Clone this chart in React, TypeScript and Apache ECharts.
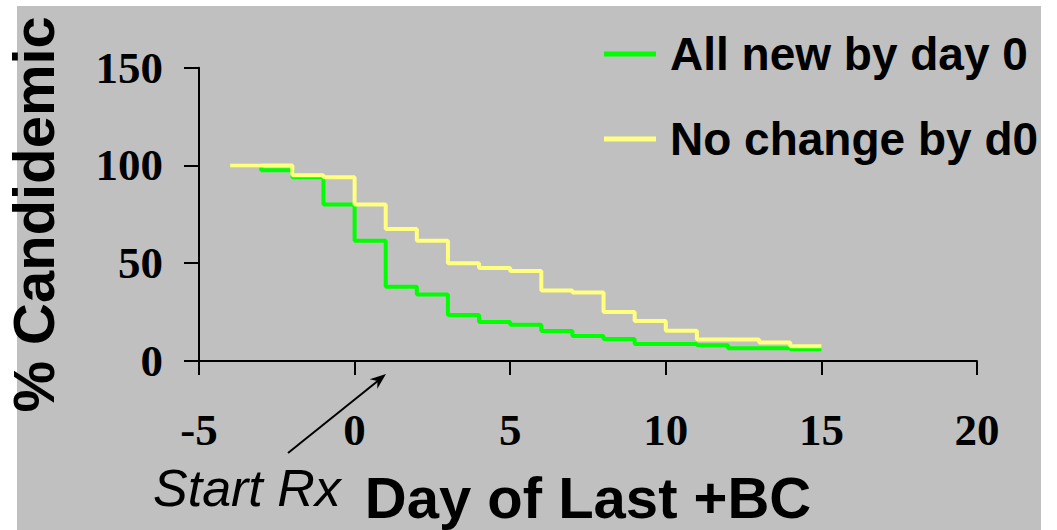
import React, { useEffect, useRef } from "react";
import * as echarts from "echarts";

const days = [-4, -3, -2, -1, 0, 1, 2, 3, 4, 5, 6, 7, 8, 9, 10, 11, 12, 13, 14, 15];
const allNew = [100, 97.5, 94, 80, 61.5, 38, 34, 23.5, 20, 18.5, 15.3, 12.8, 11.3, 8.7, 8.7, 8, 6.5, 6.5, 6, 6];
const noChange = [100, 100, 95, 94, 80, 67.5, 61.5, 50, 47.5, 46, 36, 35, 25, 20.5, 15.5, 11, 11, 9.5, 7.5, 7.5];
const seriesNames = ["All new by day 0", "No change by d0"];
const seriesColors = ["#00ff00", "#ffff80"];
const xTitle = "Day of Last +BC";
const yTitle = "% Candidemic";
const noteText = "Start Rx";

export default function App() {
  const ref = useRef<HTMLDivElement>(null);
  useEffect(() => {
    if (!ref.current) return;
    const chart = echarts.init(ref.current, undefined, { renderer: "svg" });
    const sans = '"Liberation Sans", Arial, sans-serif';
    const serif = '"Liberation Serif", "Times New Roman", serif';
    const mk = (vals: number[]) => days.map((d, i) => [d, vals[i]]);
    chart.setOption({
      animation: false,
      backgroundColor: "#ffffff",
      grid: {
        left: 199,
        right: 80,
        top: 67.7,
        bottom: 169,
        containLabel: false,
        outerBoundsMode: "none",
      },
      legend: {
        orient: "vertical",
        left: 599,
        top: 26,
        itemWidth: 52,
        itemHeight: 5,
        itemGap: 39,
        icon: "rect",
        data: seriesNames,
        textStyle: {
          fontFamily: sans,
          fontWeight: "bold",
          fontSize: 46,
          color: "#000",
          padding: [0, 0, 0, 9],
        },
      },
      xAxis: {
        type: "value",
        min: -5,
        max: 20,
        interval: 5,
        name: xTitle,
        nameLocation: "middle",
        nameGap: 107,
        nameTextStyle: { fontFamily: sans, fontWeight: "bold", fontSize: 58, color: "#000" },
        axisLine: { onZero: false, lineStyle: { color: "#000", width: 2 } },
        axisTick: { length: 14, lineStyle: { color: "#000", width: 2 } },
        axisLabel: { margin: 46, fontFamily: serif, fontWeight: "bold", fontSize: 45, color: "#000" },
        splitLine: { show: false },
      },
      yAxis: {
        type: "value",
        min: 0,
        max: 150,
        interval: 50,
        name: yTitle,
        nameLocation: "middle",
        nameGap: 137,
        nameTextStyle: { fontFamily: sans, fontWeight: "bold", fontSize: 58, color: "#000" },
        axisLine: { show: true, onZero: false, lineStyle: { color: "#000", width: 2 } },
        axisTick: { show: true, length: 15, lineStyle: { color: "#000", width: 2 } },
        axisLabel: { margin: 36, fontFamily: serif, fontWeight: "bold", fontSize: 45, color: "#000" },
        splitLine: { show: false },
      },
      graphic: [
        {
          type: "rect",
          z: -100,
          silent: true,
          shape: { x: 17, y: 6, width: 1024, height: 524 },
          style: { fill: "#c0c0c0" },
        },
        {
          type: "line",
          z: 100,
          shape: { x1: 288, y1: 453, x2: 379, y2: 380 },
          style: { stroke: "#000", lineWidth: 2 },
        },
        {
          type: "polygon",
          z: 100,
          shape: { points: [[386, 374], [377.3, 388.7], [377.4, 380.9], [369.7, 379.3]] },
          style: { fill: "#000" },
        },
        {
          type: "text",
          z: 100,
          style: {
            x: 153,
            y: 488,
            text: noteText,
            fontFamily: sans,
            fontStyle: "italic",
            fontSize: 52,
            fill: "#000",
            verticalAlign: "middle",
            align: "left",
          },
        },
      ],
      series: [
        {
          name: seriesNames[0],
          type: "line",
          step: "end",
          symbol: "none",
          data: mk(allNew),
          lineStyle: { color: seriesColors[0], width: 4 },
          itemStyle: { color: seriesColors[0] },
          z: 2,
        },
        {
          name: seriesNames[1],
          type: "line",
          step: "end",
          symbol: "none",
          data: mk(noChange),
          lineStyle: { color: seriesColors[1], width: 4 },
          itemStyle: { color: seriesColors[1] },
          z: 3,
        },
      ],
    });
    return () => chart.dispose();
  }, []);
  return (
    <div
      ref={ref}
      style={{ position: "absolute", left: 0, top: 0, width: 1057, height: 530 }}
    />
  );
}
